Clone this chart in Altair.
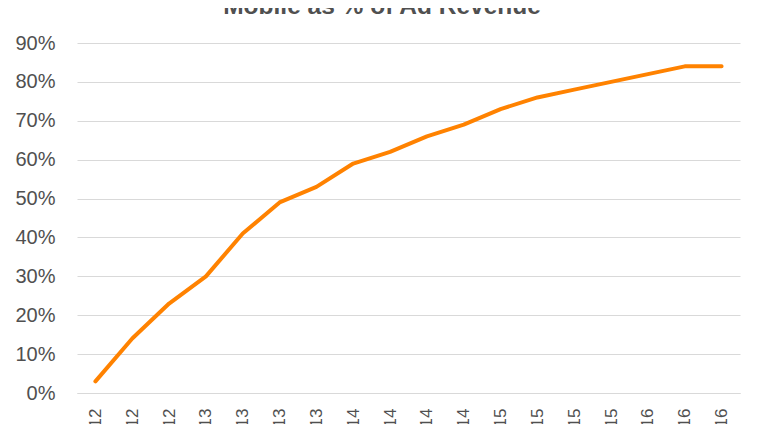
import altair as alt
import pandas as pd

quarters = ["2Q'12", "3Q'12", "4Q'12", "1Q'13", "2Q'13", "3Q'13", "4Q'13",
            "1Q'14", "2Q'14", "3Q'14", "4Q'14", "1Q'15", "2Q'15", "3Q'15",
            "4Q'15", "1Q'16", "2Q'16", "3Q'16"]
mobile_share = [0.03, 0.14, 0.23, 0.30, 0.41, 0.49, 0.53, 0.59, 0.62, 0.66,
                0.69, 0.73, 0.76, 0.78, 0.80, 0.82, 0.84, 0.84]
title_text = "Mobile as % of Ad Revenue"

df = pd.DataFrame({"quarter": quarters, "share": mobile_share})

line = alt.Chart(df).mark_line(
    color="#FF8200", strokeWidth=4, strokeCap="round", strokeJoin="round"
).encode(
    x=alt.X("quarter:N", sort=quarters,
            scale=alt.Scale(type="point", padding=0.5),
            axis=alt.Axis(title=None, labelAngle=270, labelFontSize=17,
                          labelColor="#505050", labelFont="Liberation Sans",
                          ticks=False, domain=True, domainColor="#d9d9d9",
                          labelPadding=15, labelOverlap=False, grid=False)),
    y=alt.Y("share:Q",
            scale=alt.Scale(domain=[0, 0.9], nice=False),
            axis=alt.Axis(title=None, format=".0%", values=[i / 10 for i in range(10)],
                          labelFontSize=20, labelColor="#505050",
                          labelFont="Liberation Sans", ticks=False, domain=False,
                          gridColor="#d9d9d9", gridWidth=1, labelPadding=22)),
)

title = alt.Chart(pd.DataFrame({"t": [title_text]})).mark_text(
    font="Liberation Sans", fontSize=24.5, fontWeight="bold", color="#505050",
    align="center", baseline="alphabetic"
).encode(
    text="t:N",
    x=alt.value(305),
    y=alt.value(-29),
)

chart = alt.layer(line, title).properties(
    width=663,
    height=350,
    background="white",
    autosize=alt.AutoSizeParams(type="none"),
    padding={"left": 69, "top": 35, "right": 16, "bottom": 31},
).configure_view(stroke=None)

chart.save("out.html", embed_options={"renderer": "svg", "actions": False})
